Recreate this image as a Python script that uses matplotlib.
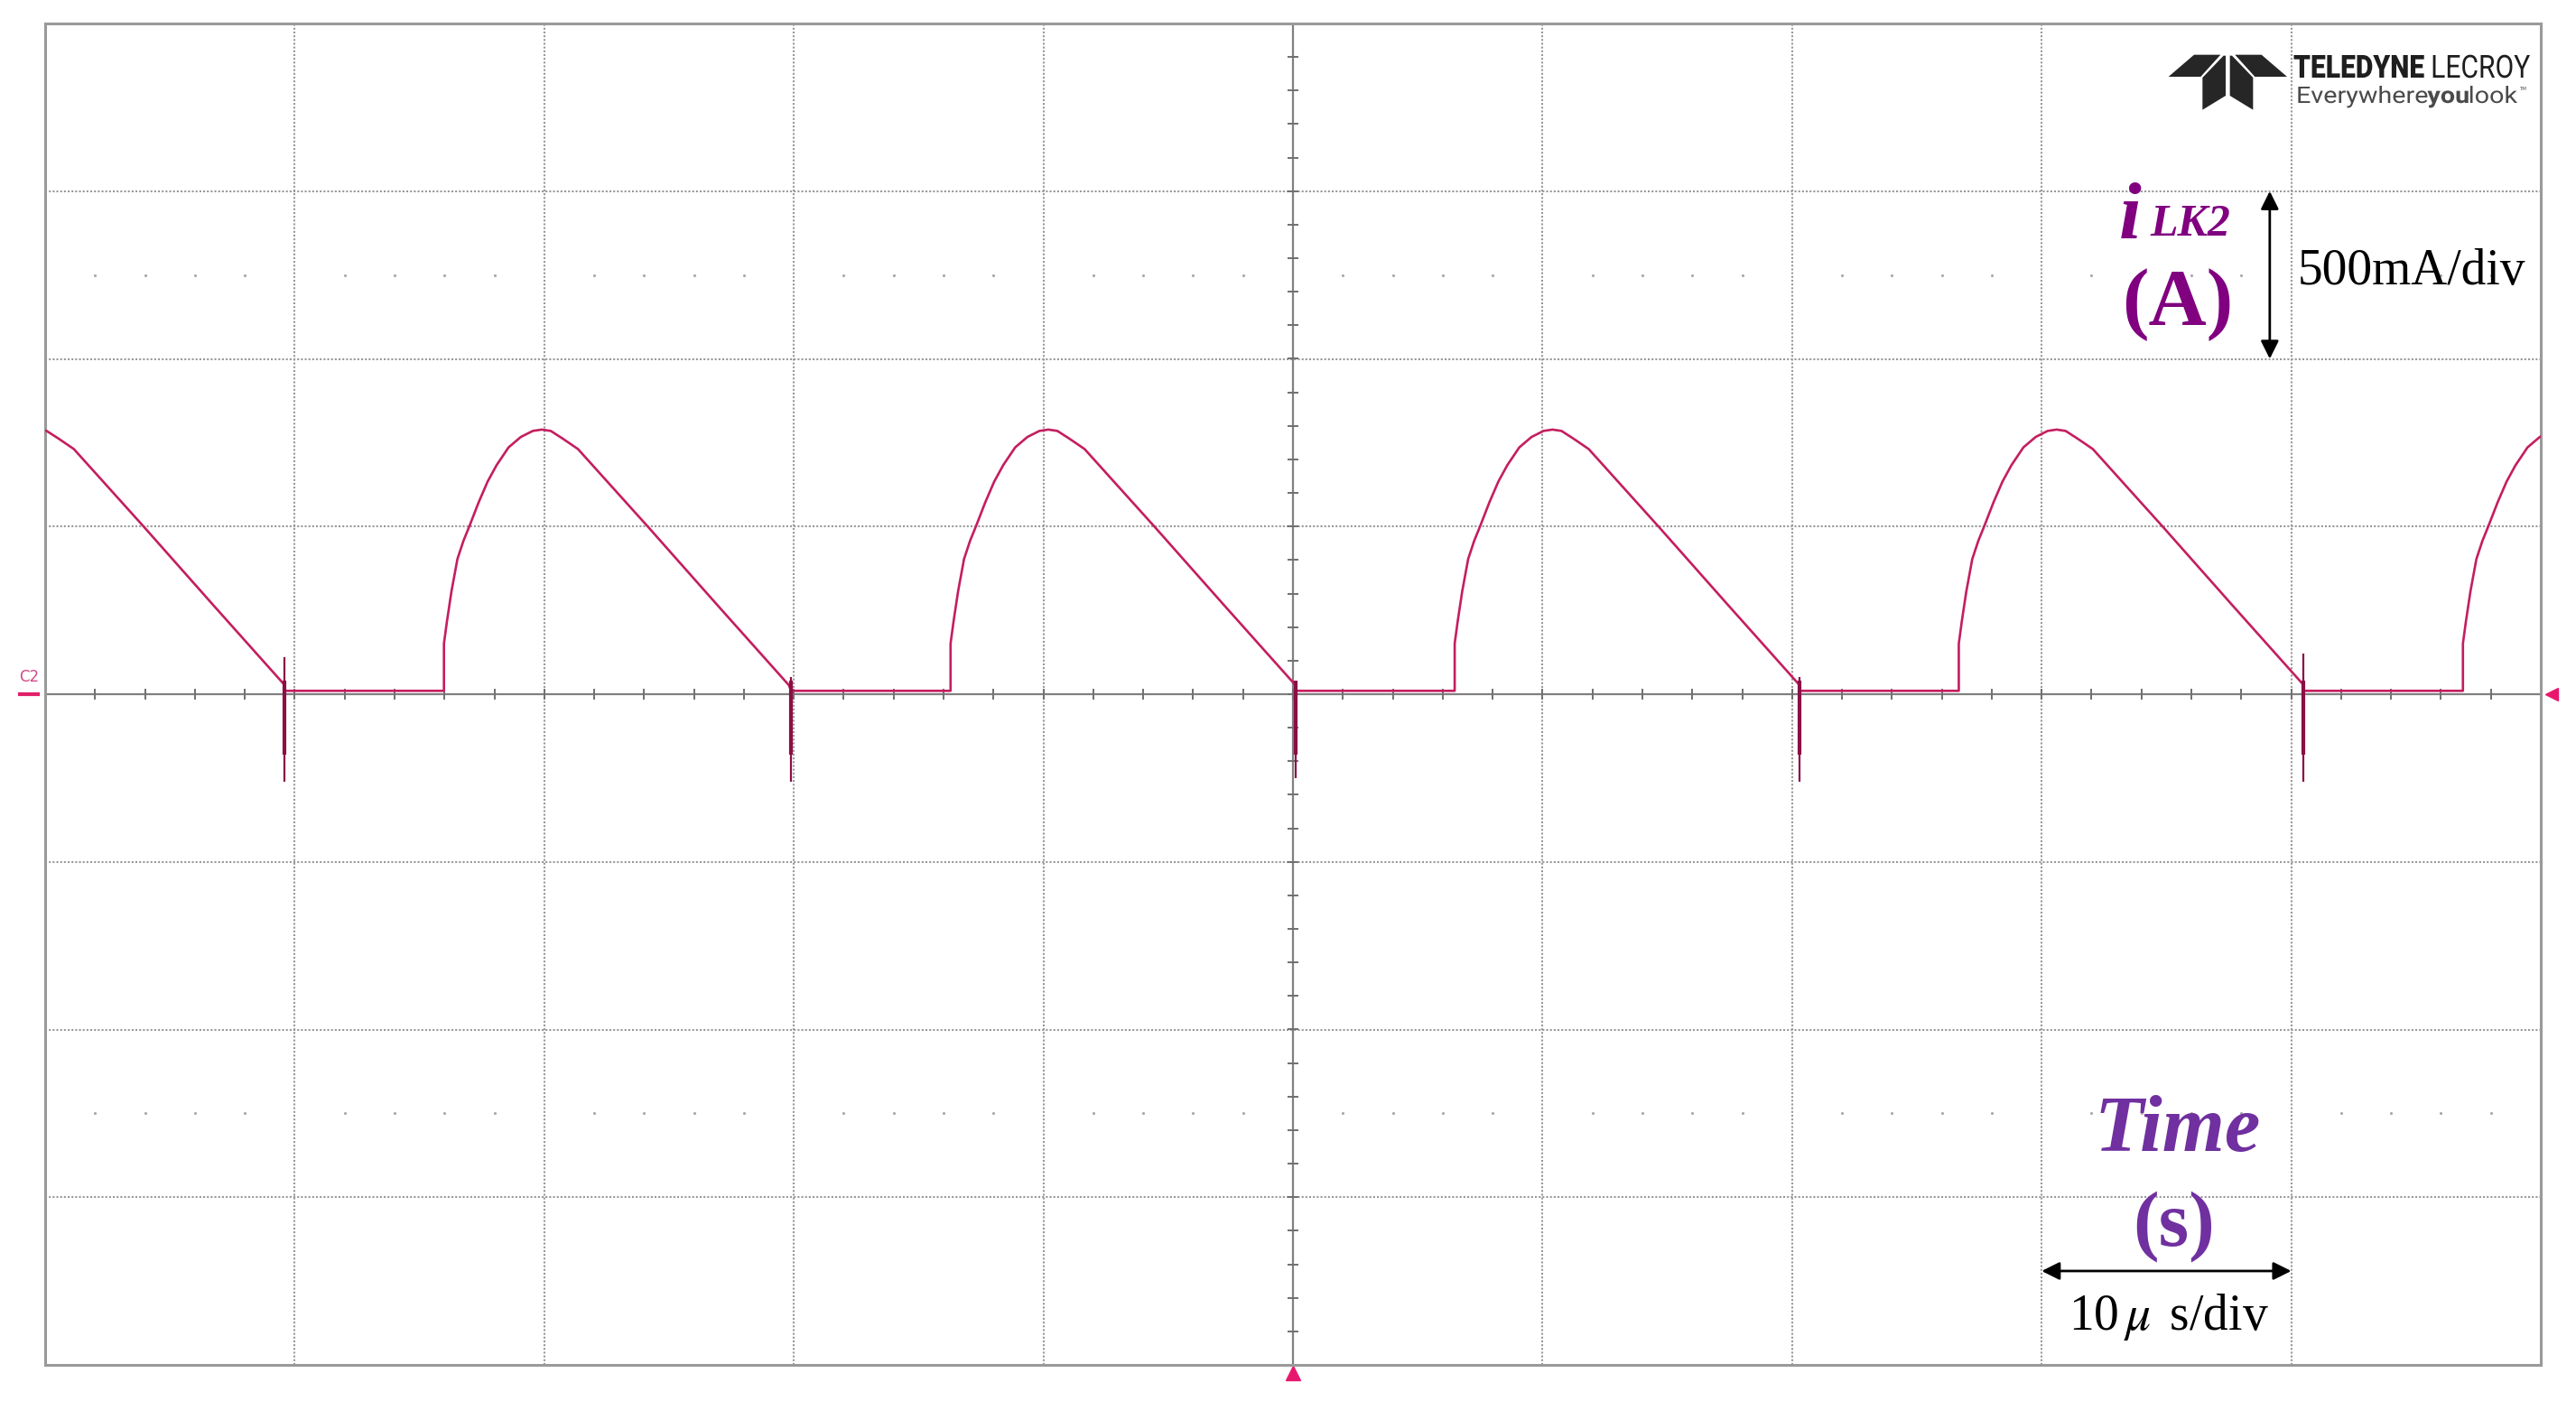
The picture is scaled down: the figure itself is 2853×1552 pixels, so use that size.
import numpy as np
import matplotlib.pyplot as plt
from matplotlib.textpath import TextPath
from matplotlib.font_manager import FontProperties
from matplotlib.patches import PathPatch, Polygon
from matplotlib.transforms import Affine2D

plt.rcParams['mathtext.fontset'] = 'stix'

# scope screen: 10 div x 10 us, 8 div x 0.5 A
spike_us = [9.6, 29.9, 50.1, 70.3, 90.5]
spike_top = [0.11, 0.05, 0.02, 0.05, 0.12]
spike_bot = [-0.26, -0.26, -0.25, -0.26, -0.26]
lead_in_us = -10.6  # start of the cycle that is cut by the left edge

# one switching cycle, time relative to the spike (us) and current (A)
cycle_us = [0.0, 6.38, 6.38, 6.50, 6.68, 6.92, 7.16, 7.40, 7.77, 8.13, 8.49,
            8.97, 9.46, 9.94, 10.30, 10.66, 11.14, 11.75, 14.57, 17.32, 20.2]
cycle_a = [0.01, 0.01, 0.151, 0.217, 0.306, 0.403, 0.457, 0.501, 0.572, 0.634,
           0.683, 0.736, 0.767, 0.785, 0.789, 0.785, 0.762, 0.731, 0.498,
           0.267, 0.027]

W, H = 2853, 1552
trace = '#c41e5f'
purple = '#800080'
violet = '#7030a0'
serif = 'Liberation Serif'

fig = plt.figure(figsize=(W / 100, H / 100), dpi=100)
ax = fig.add_axes([50 / W, 1 - 1512 / H, 2764 / W, 1486 / H])
ax.set_xlim(0, 100)
ax.set_ylim(-2, 2)
ax.set_xticks([])
ax.set_yticks([])
for sp in ax.spines.values():
    sp.set_color('#9a9a9a')
    sp.set_linewidth(2.2)

# graticule
for x in range(10, 100, 10):
    if x != 50:
        ax.axvline(x, color='#999999', lw=1.5, ls=(0, (1, 1)), zorder=1)
for y in [-1.5, -1.0, -0.5, 0.5, 1.0, 1.5]:
    ax.axhline(y, color='#999999', lw=1.5, ls=(0, (1, 1)), zorder=1)
ax.axhline(0, color='#808080', lw=1.6, zorder=1)
ax.axvline(50, color='#808080', lw=1.6, zorder=1)
tx = np.arange(0, 100.1, 2)
ax.vlines(tx, -0.017, 0.017, color='#707070', lw=1.4, zorder=1)
ty = np.arange(-2, 2.01, 0.1)
ax.hlines(ty, 49.78, 50.22, color='#707070', lw=1.4, zorder=1)
dx = [x for x in np.arange(2, 100, 2) if x % 10 != 0]
for yy in [1.25, -1.25]:
    ax.plot(dx, [yy] * len(dx), ls='none', marker='.', ms=2.5, color='#a8a8a8', zorder=1)

# waveform
t_all, i_all = [], []
for s in [lead_in_us] + spike_us:
    t_all += [s + c for c in cycle_us]
    i_all += cycle_a
ax.plot(t_all, i_all, color=trace, lw=1.9, zorder=3, solid_joinstyle='round')
ax.vlines(spike_us, spike_bot, spike_top, color='#8a0f45', lw=1.6, zorder=4)
ax.vlines(spike_us, -0.18, 0.04, color='#8a0f45', lw=3, zorder=4)

# channel / trigger markers
ax.text(-0.63, 0.05, 'C2', color='#d04a86', fontsize=12, ha='center', va='center', clip_on=False)
ax.plot([-1.0, -0.3], [0, 0], color='#e0206a', lw=3, clip_on=False)
ax.plot(100.45, 0, marker='<', ms=10, color='#e8176e', clip_on=False)
ax.plot(50, -2.024, marker='^', ms=11, color='#e8176e', clip_on=False)

# annotations
ax.text(83.1, 1.36, 'i', fontsize=64, fontweight='bold', fontstyle='italic',
        color=purple, family=serif, va='baseline')
ax.text(84.33, 1.368, 'LK2', fontsize=36, fontweight='bold', fontstyle='italic',
        color=purple, family=serif, va='baseline')
ax.text(85.44, 1.162, '(A)', fontsize=64, fontweight='bold', color=purple,
        family=serif, ha='center', va='center')
ax.annotate('', xy=(89.14, 1.5), xytext=(89.14, 1.0),
            arrowprops=dict(arrowstyle='<|-|>', color='black', lw=2,
                            mutation_scale=30, shrinkA=0, shrinkB=0))
ax.text(90.25, 1.26, '500mA/div', fontsize=40, family=serif, va='center')

ax.text(85.44, -1.304, 'Time', fontsize=64, fontweight='bold', fontstyle='italic',
        color=violet, family=serif, ha='center', va='center')
ax.text(85.3, -1.588, '(s)', fontsize=62, fontweight='bold', color=violet,
        family=serif, ha='center', va='center')
ax.annotate('', xy=(80, -1.72), xytext=(90, -1.72),
            arrowprops=dict(arrowstyle='<|-|>', color='black', lw=2,
                            mutation_scale=30, shrinkA=0, shrinkB=0))
ax.text(85.1, -1.858, r'10$\,\mu\,$ s/div', fontsize=40, family=serif,
        ha='center', va='center')

# logo, drawn in pixel coordinates
ov = fig.add_axes([0, 0, 1, 1])
ov.set_xlim(0, W)
ov.set_ylim(H, 0)
ov.axis('off')
ov.patch.set_alpha(0)


def lz(pts):
    return [(2380 + x / 3, 30 + y / 3) for x, y in pts]


shapes = [
    [(65, 165), (150, 92), (238, 92), (172, 165)],
    [(248, 95), (255, 95), (255, 228), (178, 275), (178, 168)],
    [(276, 95), (269, 95), (269, 228), (346, 275), (346, 168)],
    [(459, 165), (374, 92), (286, 92), (352, 165)],
]
for s in shapes:
    ov.add_patch(Polygon(lz(s), closed=True, color='#262626', lw=0))


def fit_text(parts, x0, x1, ybase, cap_h, color):
    # parts: list of (text, weight); squeezed to span x0..x1
    cap = TextPath((0, 0), 'H', size=100, prop=FontProperties(family='Roboto')).get_extents().height
    paths = []
    total = 0
    for txt, wt in parts:
        tp = TextPath((0, 0), txt, size=100, prop=FontProperties(family='Roboto', weight=wt))
        ext = tp.get_extents()
        paths.append((tp, ext))
        total += ext.x1
    sx = (x1 - x0) / total
    sy = cap_h / cap
    cur = x0
    for tp, ext in paths:
        tr = Affine2D().scale(sx, -sy).translate(cur, ybase) + ov.transData
        ov.add_patch(PathPatch(tp, transform=tr, color=color, lw=0))
        cur += ext.x1 * sx


fit_text([('TELEDYNE', 'black'), (' LECROY', 'normal')], 2540, 2802, 86, 25, '#1e1e1e')
fit_text([('Everywhere', 'normal'), ('you', 'bold'), ('look', 'normal')], 2543, 2788, 114, 18, '#4a4a4a')
ov.text(2790, 99, 'TM', fontsize=4, color='#4a4a4a', va='center')

fig.savefig('out.png', dpi=100, facecolor='white')
